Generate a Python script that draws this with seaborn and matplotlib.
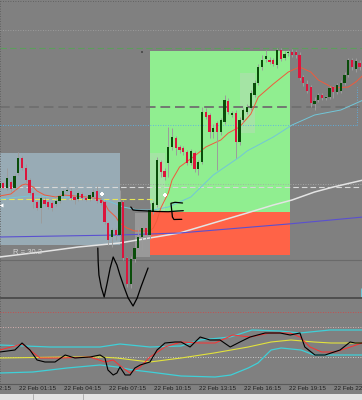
import numpy as np
import pandas as pd
import matplotlib
matplotlib.use("Agg")
import matplotlib.pyplot as plt
from matplotlib.patches import Rectangle
from matplotlib.lines import Line2D
import seaborn as sns

# ---------------- data (15-minute bars, bar 0 = 22 Feb 00:15) ----------------
bar_idx = list(range(-1, 96))
opens = [212, 217, 212, 218, 212, 227, 242, 232, 220, 207,
         198, 192, 200, 198, 197, 196, 199, 204, 209, 209,
         203, 201, 206, 202, 201, 203, 209, 200, 198, 177,
         163, 170, 165, 198, 142, 116, 141, 152, 163, 172,
         165, 188, 195, 238, 229, 237, 253, 262, 253, 252,
         248, 237, 247, 231, 238, 288, 285, 268, 277, 268,
         278, 299, 285, 287, 258, 280, 288, 292, 305, 317,
         333, 341, 340, 340, 335, 350, 342, 347, 348, 348,
         345, 323, 316, 313, 296, 300, 305, 302, 303, 313,
         308, 309, 317, 325, 340, 331, 337]
highs = [218, 218, 232, 220, 226, 248, 244, 236, 222, 209,
         200, 204, 203, 200, 199, 201, 206, 211, 212, 212,
         205, 209, 208, 204, 207, 211, 214, 203, 200, 178,
         172, 172, 210, 200, 143, 144, 155, 173, 175, 174,
         197, 199, 243, 240, 232, 273, 272, 264, 255, 254,
         250, 251, 249, 240, 293, 292, 287, 276, 279, 282,
         305, 302, 289, 290, 283, 292, 296, 310, 320, 336,
         345, 350, 343, 342, 352, 352, 349, 350, 351, 350,
         348, 325, 320, 315, 303, 307, 307, 304, 314, 314,
         317, 320, 328, 342, 342, 342, 340]
lows = [211, 211, 210, 208, 210, 225, 230, 218, 205, 192,
        190, 177, 194, 191, 189, 194, 197, 203, 208, 200,
        196, 199, 200, 199, 199, 202, 197, 195, 176, 155,
        153, 160, 160, 140, 113, 112, 138, 148, 150, 160,
        161, 186, 193, 223, 220, 223, 250, 245, 247, 245,
        235, 235, 228, 225, 236, 281, 262, 262, 230, 265,
        276, 286, 283, 242, 255, 278, 286, 290, 303, 315,
        330, 338, 336, 334, 332, 339, 340, 344, 343, 342,
        320, 314, 307, 293, 290, 298, 300, 300, 301, 302,
        306, 307, 315, 323, 330, 328, 330]
closes = [217, 212, 222, 211, 224, 242, 232, 220, 207, 198,
          192, 202, 196, 193, 192, 199, 204, 209, 210.5, 202,
          200, 207, 202, 200, 205, 208, 199, 197, 178, 160,
          170, 165, 198, 142, 116, 141, 152, 163, 172, 165,
          190, 197, 240, 228, 223, 253, 263, 252, 250, 248,
          237, 249, 231, 238, 288, 283, 268, 272, 268, 280,
          300, 288, 287, 258, 280, 290, 293, 307, 317, 333,
          340, 344, 338, 336, 350, 341, 346, 347.8, 345, 345,
          322, 317, 309, 297, 299, 305, 302, 302.6, 312, 308,
          315, 317, 325, 340, 333, 339, 333]

# moving averages (bar, price)
ma_fast_bar = [-1, 2, 4, 5, 6, 8, 9, 11, 14, 16, 19, 22, 24, 26, 27, 28, 30, 31, 33, 35,
               37, 39, 40, 41, 42, 44, 45, 47, 51, 54, 58, 60, 63, 66, 68, 72, 76, 79, 82, 84,
               88, 92, 94, 96]
ma_fast_val = [204, 206, 212, 215, 216, 213, 209, 205, 203, 205, 204, 203, 202, 201, 197, 190, 183, 177, 172, 169,
               169, 169, 172, 180, 192, 207, 220, 233, 244, 253, 260, 267, 273, 286, 303, 316, 328, 333, 328, 320,
               312, 313, 318, 325]
ma_mid_bar = [-1, 7, 15, 24, 28, 32, 36, 40, 44, 50, 56, 63, 65, 72, 77, 83, 90, 96]
ma_mid_val = [201, 204, 203, 202, 199, 193, 190, 190, 193, 203, 225, 243, 249, 263, 275, 285, 290, 300]
ma_slow_bar = [-1, 10, 20, 31, 39, 47, 56, 65, 72, 77, 83, 88, 96]
ma_slow_val = [143, 148, 153, 157, 162, 167, 177, 187, 195, 200, 208, 213, 220]
ma_blue_bar = [-1, 31, 47, 76, 96]
ma_blue_val = [163, 165, 167, 176, 183]

# oscillator panel (bar, value)
osc_main_bar = [-0.9, 3.1, 5.0, 7.1, 9.0, 11.1, 13.8, 16.5, 19.1, 23.1, 25.8, 27.1, 27.9, 29.3, 30.3,
                31.1, 32.5, 33.8, 35.1, 36.5, 39.1, 41.0, 43.1, 45.8, 47.4, 49.8, 52.5, 55.1, 57.8, 60.5,
                63.1, 65.8, 69.8, 73.8, 76.5, 79.1, 80.4, 83.1, 85.8, 89.8, 92.5, 93.8, 95.7]
osc_main_val = [5, 7, 14, 7, -3, -5, -5, 2, -1, 0, 2, -1, -13, -18, -16,
                -10, -18, -18, -11, -8, -5, 7, 14, 15, 15, 10, 20, 17, 17, 10,
                15, 20, 24, 24, 22, 24, 10, 2, 2, 7, 15, 14, 14]
osc_signal_bar = [-0.9, 5.0, 9.8, 15.1, 23.1, 27.1, 29.3, 31.9, 33.8, 36.5, 39.1, 43.1, 47.4,
                  52.5, 56.5, 61.2, 65.8, 71.1, 76.5, 79.1, 81.8, 84.9, 88.5, 92.5, 95.7]
osc_signal_val = [7, 13, -1, -1, 0, -5, -3, -11, -16, -10, 0, 10, 15,
                  14, 14, 22, 20, 24, 24, 20, 10, 5, 5, 10, 14]
band_up_bar = [-0.9, 12.5, 25.8, 31.1, 39.1, 47.4, 52.5, 60.5, 66.3, 73.8, 79.1, 87.1, 95.7]
band_up_val = [12, 10, 10, 13, 10, 11, 17, 20, 27, 26, 24, 27, 27]
band_lo_bar = [-0.9, 7.9, 17.0, 25.8, 30.3, 34.6, 39.1, 47.4, 56.5, 60.7, 65.3, 67.9, 71.4, 74.1, 79.4, 82.9, 95.7]
band_lo_val = [-16, -15, -11, -8, -10, -13, -15, -19, -20, -18, -11, -6, 7, 9, 7, 2, 2]
band_mid_bar = [-0.9, 17.0, 25.8, 30.3, 34.6, 39.1, 47.4, 56.2, 65.3, 71.4, 76.7, 82.9, 87.4, 95.7]
band_mid_val = [-1, 0, 0, -1, -3, -5, -1, 4, 10, 15, 17, 15, 14, 14]

# hand drawn marks (bar, price)
w_bar = [25.2, 25.3, 25.5, 26.1, 26.9, 27.7, 28.5, 29.3, 30.3, 31.1, 32.2, 33.3, 34.6, 35.7, 36.7, 37.8, 38.6]
w_val = [152, 138, 125, 113, 103, 117, 132, 143, 135, 125, 113, 102, 94, 102, 113, 124, 132]
line_bar = [34.0, 34.6, 36.0, 38.7, 41.0, 44.0, 46.5, 48.0]
line_val = [193, 190, 189.5, 189, 188.5, 188.3, 189, 189.3]
brk_bar = [47.8, 45.8, 44.7, 44.9, 45.1, 45.5, 47.6]
brk_val = [197, 197.7, 196.7, 190, 183, 180.5, 180.7]

tick_bars = [-8, 4, 16, 28, 40, 52, 64, 76, 88]
tick_labels = ["21 Feb 22:15", "22 Feb 01:15", "22 Feb 04:15", "22 Feb 07:15", "22 Feb 10:15",
               "22 Feb 13:15", "22 Feb 16:15", "22 Feb 19:15", "22 Feb 22:15"]

# ---------------- figure ----------------
sns.set_theme(style="white")
plt.rcParams['font.family'] = ['Liberation Sans', 'DejaVu Sans']
plt.rcParams['lines.scale_dashes'] = False

BG = '#808080'
fig = plt.figure(figsize=(3.62, 4.0), dpi=100, facecolor=BG)
ax = fig.add_axes([0, 16 / 400, 1, 384 / 400])
ax.set_facecolor(BG)
XL = (-0.88, 95.65)
ax.set_xlim(*XL)
ax.set_ylim(16, 400)

# rectangles
ax.add_patch(Rectangle((-3, 155), 34.12, 92, facecolor='#98abb5', edgecolor='none', zorder=1))
ax.add_patch(Rectangle((39.12, 188), 37.33, 161, facecolor='#90ee90', edgecolor='none', zorder=1))
ax.add_patch(Rectangle((39.12, 145), 37.33, 43, facecolor='#ff6347', edgecolor='none', zorder=1))
for (x0, y0, w, h) in [(35.12, 143, 4.0, 44), (39.12, 188, 4.0, 59), (63.12, 267, 4.0, 60)]:
    ax.add_patch(Rectangle((x0, y0), w, h, facecolor='#d0d0d0', alpha=0.32, edgecolor='none', zorder=1.5))

# horizontal levels
dot = (0, (0.6, 1.2))
ax.axhline(399, color='#5e5e5e', lw=0.7, ls=dot, zorder=2)
ax.axhline(370, color='#a0a0a0', lw=0.7, ls=dot, zorder=2)
ax.axhline(352, color='#5c9e5c', lw=0.8, ls=(0, (4.5, 2.5)), zorder=2)
ax.axhline(293, color='#6f6f6f', lw=1.3, ls=(0, (7, 3.5)), zorder=2)
ax.hlines(275, XL[0], 94.3, color='#5ab2e6', lw=0.7, ls=dot, zorder=2)
ax.vlines(94.3, 275, 313, color='#5ab2e6', lw=0.7, ls=dot, zorder=2)
ax.vlines(95.4, 102, 112, color='#6ec6d6', lw=0.7, zorder=2)
ax.axhline(216.5, color='#a8a8a8', lw=0.7, ls=dot, zorder=2)
ax.axhline(213.5, color='#d8d8d8', lw=0.8, ls=(0, (4, 2.2)), zorder=2)
ax.hlines(201, XL[0], 40.5, color='#e6e65a', lw=0.8, ls=(0, (4, 2.2)), zorder=2)
ax.axhline(140, color='#6a6a6a', lw=0.8, zorder=2)
ax.axhline(102, color='#4a4a4a', lw=1.3, zorder=2)
ax.axhline(88, color='#d04848', lw=0.7, ls=dot, zorder=2)
ax.axhline(73, color='#e2b6b6', lw=0.7, ls=dot, zorder=2)
ax.axvline(-0.75, color='#5e5e5e', lw=0.7, ls=dot, zorder=2)

# moving averages via seaborn
ma_specs = [(ma_slow_bar, ma_slow_val, '#e4e4e4', 1.1),
            (ma_blue_bar, ma_blue_val, '#5a50d0', 0.8),
            (ma_mid_bar, ma_mid_val, '#72c6d8', 0.7),
            (ma_fast_bar, ma_fast_val, '#f05a3c', 0.7)]
for xs, ys, col, lw in ma_specs:
    df = pd.DataFrame({'bar': xs, 'price': ys})
    sns.lineplot(data=df, x='bar', y='price', color=col, lw=lw, ax=ax, zorder=3)

# candles
o = np.array(opens, float); h = np.array(highs, float)
l = np.array(lows, float); c = np.array(closes, float)
xb = np.array(bar_idx, float)
up = c >= o
ax.vlines(xb, l, h, color='#9c9c9c', lw=0.7, zorder=4)
body_lo = np.minimum(o, c)
body_h = np.maximum(np.abs(c - o), 0.9)
cols = np.where(up, '#0a4d0a', '#dc143c')
ax.bar(xb, body_h, bottom=body_lo, width=0.6, color=cols, edgecolor='none', zorder=5)

# hand drawn marks
for xs, ys in [(w_bar, w_val), (line_bar, line_val), (brk_bar, brk_val)]:
    ax.plot(xs, ys, color='black', lw=0.9, zorder=6, solid_capstyle='round')

# markers
ax.scatter([26.2, 43.1], [206, 205], marker='P', s=12, color='white', linewidths=0, zorder=7)
ax.scatter([-0.6], [195], marker='<', s=8, color='white', linewidths=0, zorder=7)
ax.scatter([37], [348], marker='s', s=2, color='#505050', linewidths=0, zorder=7)

ax.text(2.6, 147, "R = 30.2", color='#d4d4d4', fontsize=5.5, va='center', ha='left', zorder=7)

# axis styling
for s in ['top', 'left', 'right']:
    ax.spines[s].set_visible(False)
ax.spines['bottom'].set_color('#5a5a5a')
ax.spines['bottom'].set_linewidth(0.8)
ax.set_yticks([])
ax.set_xticks([t for t in tick_bars if XL[0] <= t <= XL[1]])
ax.tick_params(axis='x', length=2, width=0.6, color='#4a4a4a', direction='out', labelbottom=False)
ax.set_xlabel('')
ax.set_ylabel('')
trans = ax.get_xaxis_transform()
for tb, tl in zip(tick_bars, tick_labels):
    ax.text(tb + 0.15, -0.004, tl, transform=trans, ha='left', va='top', clip_on=False,
            fontsize=4.5, color='#1e1e1e', family=['Liberation Sans', 'DejaVu Sans'])

# oscillator panel
ax2 = fig.add_axes([0, 16 / 400, 1, 62 / 400])
ax2.set_facecolor('none')
ax2.set_xlim(*XL)
ax2.set_ylim(-27, 35)
ax2.axhline(0, color='#d6d6d6', lw=0.7, ls=dot, zorder=1)
osc_specs = [(band_up_bar, band_up_val, '#3fd0d8', 0.9),
             (band_lo_bar, band_lo_val, '#3fd0d8', 0.9),
             (band_mid_bar, band_mid_val, '#e2e23c', 0.8),
             (osc_signal_bar, osc_signal_val, '#ff3030', 0.7),
             (osc_main_bar, osc_main_val, '#000000', 0.8)]
for xs, ys, col, lw in osc_specs:
    df = pd.DataFrame({'bar': xs, 'value': ys})
    sns.lineplot(data=df, x='bar', y='value', color=col, lw=lw, ax=ax2, zorder=2)
ax2.axis('off')

# bottom tab strip
fig.patches.append(Rectangle((0, 0), 1, 6 / 400, transform=fig.transFigure,
                             facecolor='#e4e4e4', edgecolor='none', zorder=0))
for xp in [33, 83]:
    fig.lines.append(Line2D([xp / 362, xp / 362], [0, 6 / 400], transform=fig.transFigure,
                            color='#a8a8a8', lw=0.6))

fig.savefig('out.png', dpi=100, facecolor=BG)
